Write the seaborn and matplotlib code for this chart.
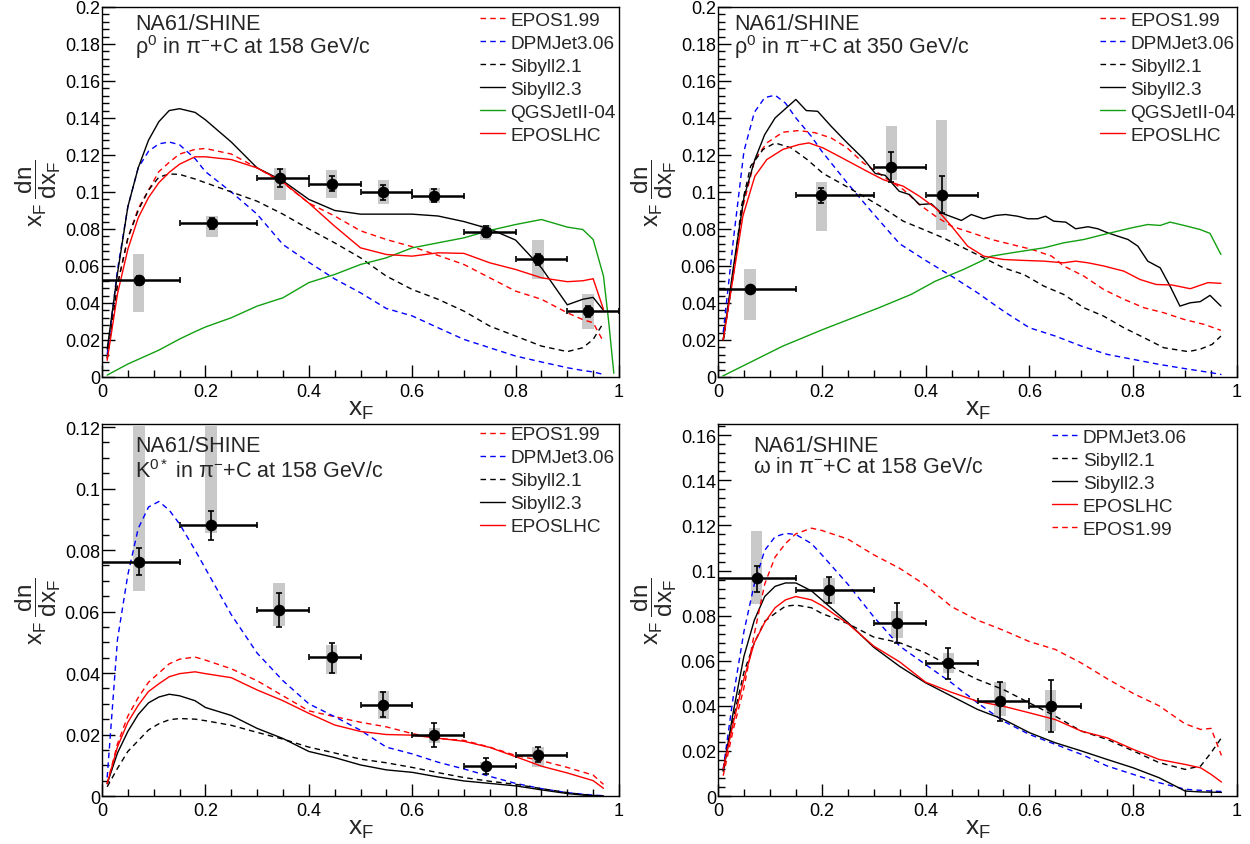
import numpy as np
import pandas as pd
import seaborn as sns
import matplotlib
matplotlib.use("Agg")
import matplotlib.pyplot as plt
from matplotlib.lines import Line2D
from matplotlib.ticker import MultipleLocator, FuncFormatter

# ---------------- common x grid for model curves ----------------
G = [0.01, 0.03, 0.05, 0.07, 0.09, 0.11, 0.13, 0.15, 0.18, 0.2, 0.25, 0.3, 0.35, 0.4,
     0.45, 0.5, 0.55, 0.6, 0.65, 0.7, 0.75, 0.8, 0.85, 0.9, 0.93, 0.95, 0.97]

# ---------------- panel 1: rho0, pi- + C, 158 GeV/c ----------------
P1_X = [0.071, 0.213, 0.344, 0.444, 0.544, 0.643, 0.742, 0.843, 0.940]
P1_XLO = [0.0, 0.15, 0.3, 0.4, 0.5, 0.6, 0.7, 0.8, 0.9]
P1_XHI = [0.15, 0.3, 0.4, 0.5, 0.6, 0.7, 0.8, 0.9, 1.0]
P1_Y = [0.0522, 0.083, 0.1076, 0.1044, 0.0999, 0.0979, 0.0785, 0.0637, 0.0356]
P1_STAT = [0.0025, 0.003, 0.005, 0.004, 0.004, 0.0035, 0.003, 0.003, 0.003]
P1_SYS_LO = [0.0353, 0.0755, 0.0954, 0.0967, 0.0936, 0.0938, 0.0743, 0.0527, 0.0257]
P1_SYS_HI = [0.0662, 0.087, 0.113, 0.1118, 0.1062, 0.1019, 0.0821, 0.0743, 0.0446]

P1_SIB23 = [0.015, 0.056, 0.092, 0.113, 0.128, 0.138, 0.144, 0.145, 0.143, 0.139, 0.127, 0.113,
            0.106, 0.096, 0.090, 0.088, 0.088, 0.088, 0.087, 0.084, 0.080, 0.074, 0.059, 0.039,
            0.042, 0.043, 0.036]
P1_DPM = [0.012, 0.058, 0.092, 0.113, 0.122, 0.126, 0.127, 0.1255, 0.118, 0.111, 0.100, 0.088,
          0.0716, 0.062, 0.053, 0.0455, 0.037, 0.033, 0.0266, 0.0203, 0.0158, 0.0113, 0.0081,
          0.005, 0.0035, 0.0027, 0.0014]
P1_SIB21 = [0.01, 0.05, 0.075, 0.090, 0.101, 0.108, 0.1097, 0.1095, 0.107, 0.105, 0.100, 0.095,
            0.088, 0.080, 0.0725, 0.0644, 0.0545, 0.0473, 0.042, 0.0356, 0.0275, 0.0221, 0.0167,
            0.0137, 0.0158, 0.0203, 0.0293]
P1_EPOS199 = [0.01, 0.05, 0.075, 0.091, 0.101, 0.111, 0.116, 0.1205, 0.123, 0.1235, 0.1205,
              0.113, 0.105, 0.094, 0.087, 0.079, 0.0743, 0.0704, 0.0657, 0.0608, 0.0536, 0.0464,
              0.042, 0.0347, 0.031, 0.0293, 0.019]
P1_EPOSLHC = [0.009, 0.045, 0.069, 0.086, 0.097, 0.105, 0.1106, 0.115, 0.119, 0.119, 0.1175,
              0.113, 0.1053, 0.094, 0.0815, 0.0698, 0.0662, 0.0653, 0.0671, 0.0668, 0.0617,
              0.0581, 0.0536, 0.0515, 0.052, 0.0531, 0.0365]
P1_QGS_X = G + [0.98, 0.99]
P1_QGS = [0.001, 0.004, 0.007, 0.0095, 0.012, 0.0145, 0.0175, 0.0205, 0.0245, 0.027, 0.032,
          0.0383, 0.0428, 0.051, 0.0554, 0.0608, 0.0644, 0.0698, 0.0725, 0.0752, 0.0792, 0.0824,
          0.0851, 0.081, 0.0797, 0.0743, 0.0545, 0.03, 0.002]

# ---------------- panel 2: rho0, pi- + C, 350 GeV/c ----------------
P2_X = [0.062, 0.199, 0.334, 0.431]
P2_XLO = [0.0, 0.15, 0.3, 0.4]
P2_XHI = [0.15, 0.3, 0.4, 0.5]
P2_Y = [0.0477, 0.0983, 0.1136, 0.0986]
P2_STAT = [0.0015, 0.004, 0.008, 0.010]
P2_SYS_LO = [0.0308, 0.0788, 0.1067, 0.0792]
P2_SYS_HI = [0.0581, 0.1053, 0.1359, 0.1388]

P2_DPM = [0.024, 0.075, 0.122, 0.143, 0.151, 0.1523, 0.148, 0.140, 0.130, 0.122, 0.1045, 0.088,
          0.072, 0.063, 0.0545, 0.0455, 0.0356, 0.0266, 0.0221, 0.0167, 0.0122, 0.0095, 0.0068,
          0.0045, 0.0032, 0.0023, 0.0013]
P2_SIB23_X = [0.01, 0.03, 0.05, 0.071, 0.09, 0.11, 0.15, 0.17, 0.192, 0.218, 0.249, 0.28, 0.303,
              0.322, 0.349, 0.369, 0.388, 0.411, 0.43, 0.469, 0.488, 0.512, 0.535, 0.554, 0.577,
              0.597, 0.616, 0.631, 0.647, 0.67, 0.689, 0.713, 0.732, 0.751, 0.79, 0.809, 0.828,
              0.852, 0.871, 0.89, 0.91, 0.929, 0.948, 0.969]
P2_SIB23 = [0.02, 0.06, 0.097, 0.1175, 0.131, 0.14, 0.150, 0.144, 0.1436, 0.1355, 0.1265, 0.118,
            0.110, 0.109, 0.1004, 0.0986, 0.0932, 0.0936, 0.0887, 0.0846, 0.0878, 0.0855, 0.0873,
            0.0878, 0.0869, 0.0855, 0.0855, 0.0869, 0.0842, 0.0837, 0.0801, 0.0812, 0.0801,
            0.0779, 0.0743, 0.0707, 0.0626, 0.059, 0.0491, 0.0383, 0.0401, 0.0407, 0.0441, 0.0383]
P2_SIB21_X = [0.01, 0.032, 0.045, 0.063, 0.087, 0.11, 0.141, 0.172, 0.2025, 0.241, 0.28, 0.318,
              0.357, 0.396, 0.434, 0.473, 0.512, 0.55, 0.589, 0.628, 0.666, 0.705, 0.743, 0.782,
              0.821, 0.859, 0.906, 0.929, 0.952, 0.969]
P2_SIB21 = [0.0195, 0.06, 0.092, 0.114, 0.123, 0.1265, 0.1238, 0.1175, 0.110, 0.104, 0.0977,
            0.0914, 0.0842, 0.0797, 0.0752, 0.0698, 0.0644, 0.059, 0.0554, 0.0491, 0.0446, 0.0374,
            0.0329, 0.0266, 0.0212, 0.0158, 0.0137, 0.015, 0.0176, 0.0221]
P2_EPOS199_X = [0.01, 0.048, 0.071, 0.094, 0.125, 0.156, 0.187, 0.218, 0.249, 0.28, 0.318, 0.357,
                0.388, 0.419, 0.45, 0.488, 0.527, 0.566, 0.604, 0.643, 0.666, 0.705, 0.743,
                0.782, 0.821, 0.859, 0.898, 0.937, 0.969]
P2_EPOS199 = [0.02, 0.092, 0.1175, 0.1265, 0.1323, 0.1332, 0.132, 0.1292, 0.1238, 0.1157, 0.1085,
              0.1013, 0.0932, 0.0869, 0.0815, 0.078, 0.0743, 0.0716, 0.069, 0.0653, 0.06, 0.0545,
              0.0473, 0.042, 0.0374, 0.0347, 0.0311, 0.0284, 0.0252]
P2_EPOSLHC_X = [0.01, 0.048, 0.071, 0.094, 0.125, 0.156, 0.175, 0.2025, 0.233, 0.257, 0.287,
                0.318, 0.357, 0.388, 0.419, 0.45, 0.481, 0.512, 0.55, 0.589, 0.628, 0.666, 0.689,
                0.713, 0.743, 0.782, 0.813, 0.844, 0.875, 0.91, 0.944, 0.969]
P2_EPOSLHC = [0.02, 0.087, 0.1085, 0.1175, 0.123, 0.1256, 0.1265, 0.1238, 0.1193, 0.1157, 0.1112,
              0.1067, 0.1031, 0.0977, 0.0914, 0.0815, 0.0707, 0.0653, 0.0635, 0.063, 0.0626,
              0.0617, 0.0626, 0.0617, 0.06, 0.0572, 0.0527, 0.05, 0.0497, 0.0477, 0.051, 0.0506]
P2_QGS_X = [0.009, 0.125, 0.2025, 0.31, 0.372, 0.419, 0.473, 0.527, 0.566, 0.628, 0.666, 0.705,
            0.743, 0.797, 0.828, 0.852, 0.871, 0.898, 0.929, 0.948, 0.969]
P2_QGS = [0.0005, 0.0167, 0.0257, 0.0374, 0.0446, 0.0518, 0.0581, 0.0653, 0.0671, 0.0698, 0.0725,
          0.0743, 0.077, 0.0806, 0.0824, 0.0819, 0.0837, 0.0819, 0.0797, 0.0776, 0.0662]

# ---------------- panel 3: K0*, pi- + C, 158 GeV/c ----------------
P3_X = [0.0716, 0.211, 0.342, 0.444, 0.544, 0.643, 0.742, 0.843]
P3_XLO = [0.0, 0.15, 0.3, 0.4, 0.5, 0.6, 0.7, 0.8]
P3_XHI = [0.15, 0.3, 0.4, 0.5, 0.6, 0.7, 0.8, 0.9]
P3_Y = [0.0762, 0.0883, 0.0605, 0.0451, 0.0297, 0.0198, 0.0097, 0.0134]
P3_STAT_LO = [0.0719, 0.0834, 0.055, 0.040, 0.0256, 0.016, 0.0071, 0.011]
P3_STAT_HI = [0.0806, 0.0928, 0.066, 0.0498, 0.0337, 0.0238, 0.0123, 0.0159]
P3_SYS_LO = [0.0668, 0.0856, 0.0554, 0.0398, 0.0249, 0.0174, 0.0088, 0.0093]
P3_SYS_HI = [0.1205, 0.1205, 0.0693, 0.0491, 0.0341, 0.0222, 0.011, 0.0159]

P3_DPM = [0.006, 0.051, 0.072, 0.087, 0.094, 0.0958, 0.093, 0.0885, 0.080, 0.074, 0.059, 0.0465,
          0.0375, 0.030, 0.0258, 0.0214, 0.0159, 0.0137, 0.011, 0.0088, 0.0064, 0.0041, 0.0024,
          0.0011, 0.0006, 0.0003, 0.0001]
P3_EPOS199 = [0.004, 0.017, 0.026, 0.032, 0.037, 0.040, 0.043, 0.0445, 0.0452, 0.0442, 0.0414,
              0.0375, 0.0326, 0.0277, 0.0258, 0.024, 0.0225, 0.0203, 0.0187, 0.0181, 0.0159,
              0.0132, 0.0115, 0.0093, 0.0078, 0.0068, 0.0038]
P3_EPOSLHC = [0.004, 0.016, 0.024, 0.0295, 0.034, 0.0365, 0.0388, 0.0398, 0.0404, 0.0398, 0.0385,
              0.0345, 0.031, 0.0269, 0.0231, 0.021, 0.020, 0.0198, 0.0188, 0.0178, 0.0158, 0.0128,
              0.0097, 0.0075, 0.006, 0.005, 0.0025]
P3_SIB23 = [0.004, 0.014, 0.021, 0.0265, 0.0303, 0.0322, 0.0331, 0.0326, 0.031, 0.0288, 0.0262,
            0.022, 0.0187, 0.0145, 0.0125, 0.0101, 0.0085, 0.0077, 0.0062, 0.0049, 0.0041, 0.0033,
            0.002, 0.0008, 0.0003, 0.0001, 0.0]
P3_SIB21 = [0.003, 0.009, 0.0145, 0.018, 0.0215, 0.0235, 0.0248, 0.0252, 0.025, 0.0245, 0.023,
            0.0207, 0.0185, 0.0159, 0.014, 0.012, 0.0108, 0.0093, 0.0076, 0.006, 0.0048, 0.0038,
            0.0024, 0.0011, 0.0005, 0.0002, 0.0]

# ---------------- panel 4: omega, pi- + C, 158 GeV/c ----------------
P4_X = [0.0745, 0.214, 0.345, 0.444, 0.543, 0.641]
P4_XLO = [0.0, 0.15, 0.3, 0.4, 0.5, 0.6]
P4_XHI = [0.15, 0.3, 0.4, 0.5, 0.6, 0.7]
P4_Y = [0.0967, 0.0916, 0.0769, 0.0589, 0.042, 0.0401]
P4_STAT_LO = [0.0907, 0.0856, 0.0679, 0.0519, 0.0332, 0.0285]
P4_STAT_HI = [0.1022, 0.0973, 0.0856, 0.0655, 0.0505, 0.0514]
P4_SYS_LO = [0.0852, 0.085, 0.070, 0.0544, 0.0354, 0.0288]
P4_SYS_HI = [0.1175, 0.0969, 0.0821, 0.0635, 0.0506, 0.0469]

P4_DPM = [0.012, 0.045, 0.073, 0.094, 0.109, 0.115, 0.1165, 0.116, 0.112, 0.107, 0.094, 0.0795,
          0.0665, 0.0583, 0.0502, 0.0413, 0.0332, 0.0273, 0.0229, 0.0185, 0.0133, 0.0096, 0.0059,
          0.003, 0.0025, 0.0022, 0.002]
P4_SIB21 = [0.011, 0.035, 0.055, 0.068, 0.0775, 0.081, 0.0842, 0.0847, 0.0835, 0.081, 0.0765,
            0.0705, 0.068, 0.0635, 0.0573, 0.0517, 0.0472, 0.0413, 0.0354, 0.0288, 0.0251, 0.020,
            0.0148, 0.0118, 0.0133, 0.0192, 0.0258]
P4_SIB23 = [0.011, 0.038, 0.062, 0.078, 0.0885, 0.093, 0.0945, 0.0945, 0.091, 0.087, 0.077, 0.066,
            0.0575, 0.0502, 0.0443, 0.0384, 0.034, 0.0281, 0.0236, 0.020, 0.0162, 0.0125, 0.0081,
            0.0022, 0.0018, 0.0017, 0.0016]
P4_EPOSLHC = [0.012, 0.033, 0.052, 0.068, 0.077, 0.0835, 0.087, 0.0885, 0.087, 0.0845, 0.0765,
              0.0665, 0.0595, 0.0505, 0.046, 0.042, 0.0398, 0.0369, 0.0339, 0.0288, 0.0258, 0.0207,
              0.0162, 0.014, 0.0125, 0.0096, 0.0062]
P4_EPOS199 = [0.009, 0.03, 0.048, 0.072, 0.094, 0.106, 0.112, 0.1163, 0.1188, 0.1178, 0.114, 0.107,
              0.101, 0.0935, 0.084, 0.078, 0.0735, 0.0685, 0.065, 0.059, 0.052, 0.0455, 0.040,
              0.032, 0.0295, 0.030, 0.018]

# ---------------- styles ----------------
RED, BLUE, BLACK, GREEN = "#ff0000", "#0000ff", "#000000", "#12a012"
DASH = (0, (4, 3))
STYLE = {
    "EPOS1.99": (RED, DASH),
    "DPMJet3.06": (BLUE, DASH),
    "Sibyll2.1": (BLACK, DASH),
    "Sibyll2.3": (BLACK, "-"),
    "QGSJetII-04": (GREEN, "-"),
    "EPOSLHC": (RED, "-"),
}

sns.set_theme(style="ticks")
plt.rcParams["font.family"] = ["Liberation Sans", "DejaVu Sans"]
plt.rcParams["mathtext.fontset"] = "custom"
plt.rcParams["mathtext.rm"] = "Liberation Sans"
plt.rcParams["mathtext.it"] = "Liberation Sans:italic"
plt.rcParams["mathtext.bf"] = "Liberation Sans:bold"

fig = plt.figure(figsize=(12.5, 8.45), dpi=100)
ax1 = fig.add_axes([0.0816, 0.5527, 0.4136, 0.4379])
ax2 = fig.add_axes([0.5744, 0.5527, 0.4152, 0.4379])
ax3 = fig.add_axes([0.0816, 0.0568, 0.4136, 0.4402])
ax4 = fig.add_axes([0.5744, 0.0568, 0.4152, 0.4402])

fmt = FuncFormatter(lambda v, p: "%g" % round(v, 4))

LEG_FS = 13.7
TITLE_FS = 15.5


def style_axes(ax, ymax, ymaj, ymin):
    ax.set_xlim(0, 1)
    ax.set_ylim(0, ymax)
    ax.xaxis.set_major_locator(MultipleLocator(0.2))
    ax.xaxis.set_minor_locator(MultipleLocator(0.05))
    ax.yaxis.set_major_locator(MultipleLocator(ymaj))
    ax.yaxis.set_minor_locator(MultipleLocator(ymin))
    ax.xaxis.set_major_formatter(fmt)
    ax.yaxis.set_major_formatter(fmt)
    ax.tick_params(which="both", direction="in", top=False, right=False, colors="black",
                   width=1.0, labelsize=13)
    ax.tick_params(which="major", length=9)
    ax.tick_params(which="minor", length=5)
    ax.tick_params(axis="y", pad=1.5)
    ax.tick_params(axis="x", pad=4)
    for s in ax.spines.values():
        s.set_visible(True)
        s.set_color("black")
        s.set_linewidth(1.0)
    ax.set_facecolor("white")
    ax.set_xlabel(r"$\mathrm{x_{F}}$", fontsize=19)
    ax.xaxis.set_label_coords(0.5, -0.055)
    ax.set_ylabel(r"$\mathrm{x_{F}}\;\dfrac{\mathrm{dn}}{\mathrm{dx_{F}}}$", fontsize=17.5)
    ax.yaxis.set_label_coords(-0.076, 0.5)


def draw_curves(ax, curves):
    for name, xs, ys in curves:
        col, ls = STYLE[name]
        sns.lineplot(x=xs, y=ys, ax=ax, color=col, linestyle=ls, lw=1.0, sort=False,
                     estimator=None, legend=False, zorder=3)


def draw_data(ax, x, y, xlo, xhi, slo, shi, sys_lo, sys_hi):
    x = np.asarray(x); y = np.asarray(y)
    sys_lo = np.asarray(sys_lo); sys_hi = np.asarray(sys_hi)
    ax.bar(x, sys_hi - sys_lo, bottom=sys_lo, width=0.022, color="#c9c9c9", linewidth=0,
           zorder=1)
    xerr = [x - np.asarray(xlo), np.asarray(xhi) - x]
    ax.errorbar(x, y, xerr=xerr, fmt="none", ecolor="black", elinewidth=1.8, capsize=2.5,
                capthick=1.2, zorder=5)
    yerr = [y - np.asarray(slo), np.asarray(shi) - y]
    ax.errorbar(x, y, yerr=yerr, fmt="none", ecolor="black", elinewidth=1.2, capsize=2.5,
                capthick=1.2, zorder=5)
    sns.scatterplot(x=x, y=y, ax=ax, color="black", s=70, edgecolor="black", linewidth=0,
                    zorder=6, legend=False)


def add_legend(ax, names, x0, y0):
    handles = []
    for n in names:
        col, ls = STYLE[n]
        handles.append(Line2D([0], [0], color=col, linestyle=ls, lw=1.0))
    ax.legend(handles, names, loc="upper left", bbox_to_anchor=(x0, y0), frameon=False,
              fontsize=LEG_FS, handlelength=1.3, handletextpad=0.3, labelspacing=0.3,
              borderpad=0, borderaxespad=0)


def add_title(ax, line2, x0, y1, y2):
    ax.text(x0, y1, "NA61/SHINE", transform=ax.transAxes, fontsize=TITLE_FS, va="baseline",
            ha="left")
    ax.text(x0, y2, line2, transform=ax.transAxes, fontsize=TITLE_FS, va="baseline", ha="left")


# ---- panel 1
style_axes(ax1, 0.2, 0.02, 0.004)
p1_stat_lo = np.array(P1_Y) - np.array(P1_STAT)
p1_stat_hi = np.array(P1_Y) + np.array(P1_STAT)
draw_data(ax1, P1_X, P1_Y, P1_XLO, P1_XHI, p1_stat_lo, p1_stat_hi, P1_SYS_LO, P1_SYS_HI)
draw_curves(ax1, [("EPOS1.99", G, P1_EPOS199), ("DPMJet3.06", G, P1_DPM),
                  ("Sibyll2.1", G, P1_SIB21), ("Sibyll2.3", G, P1_SIB23),
                  ("QGSJetII-04", P1_QGS_X, P1_QGS), ("EPOSLHC", G, P1_EPOSLHC)])
add_legend(ax1, ["EPOS1.99", "DPMJet3.06", "Sibyll2.1", "Sibyll2.3", "QGSJetII-04", "EPOSLHC"],
           0.731, 0.988)
add_title(ax1, r"ρ$^{0}$ in π$^{-}$+C at 158 GeV/c", 0.064, 0.9405, 0.876)

# ---- panel 2
style_axes(ax2, 0.2, 0.02, 0.004)
p2_stat_lo = np.array(P2_Y) - np.array(P2_STAT)
p2_stat_hi = np.array(P2_Y) + np.array(P2_STAT)
draw_data(ax2, P2_X, P2_Y, P2_XLO, P2_XHI, p2_stat_lo, p2_stat_hi, P2_SYS_LO, P2_SYS_HI)
draw_curves(ax2, [("EPOS1.99", P2_EPOS199_X, P2_EPOS199), ("DPMJet3.06", G, P2_DPM),
                  ("Sibyll2.1", P2_SIB21_X, P2_SIB21), ("Sibyll2.3", P2_SIB23_X, P2_SIB23),
                  ("QGSJetII-04", P2_QGS_X, P2_QGS), ("EPOSLHC", P2_EPOSLHC_X, P2_EPOSLHC)])
add_legend(ax2, ["EPOS1.99", "DPMJet3.06", "Sibyll2.1", "Sibyll2.3", "QGSJetII-04", "EPOSLHC"],
           0.736, 0.988)
add_title(ax2, r"ρ$^{0}$ in π$^{-}$+C at 350 GeV/c", 0.031, 0.9405, 0.876)

# ---- panel 3
style_axes(ax3, 0.121, 0.02, 0.005)
draw_data(ax3, P3_X, P3_Y, P3_XLO, P3_XHI, P3_STAT_LO, P3_STAT_HI, P3_SYS_LO, P3_SYS_HI)
draw_curves(ax3, [("EPOS1.99", G, P3_EPOS199), ("DPMJet3.06", G, P3_DPM),
                  ("Sibyll2.1", G, P3_SIB21), ("Sibyll2.3", G, P3_SIB23),
                  ("EPOSLHC", G, P3_EPOSLHC)])
add_legend(ax3, ["EPOS1.99", "DPMJet3.06", "Sibyll2.1", "Sibyll2.3", "EPOSLHC"], 0.731, 0.995)
add_title(ax3, r"K$^{0*}$ in π$^{-}$+C at 158 GeV/c", 0.064, 0.927, 0.857)

# ---- panel 4
style_axes(ax4, 0.165, 0.02, 0.004)
draw_data(ax4, P4_X, P4_Y, P4_XLO, P4_XHI, P4_STAT_LO, P4_STAT_HI, P4_SYS_LO, P4_SYS_HI)
draw_curves(ax4, [("DPMJet3.06", G, P4_DPM), ("Sibyll2.1", G, P4_SIB21),
                  ("Sibyll2.3", G, P4_SIB23), ("EPOSLHC", G, P4_EPOSLHC),
                  ("EPOS1.99", G, P4_EPOS199)])
add_legend(ax4, ["DPMJet3.06", "Sibyll2.1", "Sibyll2.3", "EPOSLHC", "EPOS1.99"], 0.644, 0.988)
add_title(ax4, r"ω in π$^{-}$+C at 158 GeV/c", 0.068, 0.928, 0.871)

fig.savefig("out.png", dpi=100, facecolor="white")
